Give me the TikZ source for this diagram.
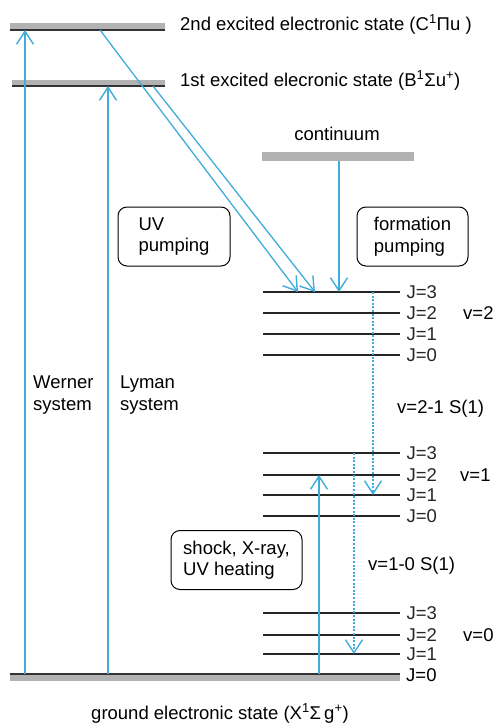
\documentclass[tikz,border=0pt]{standalone}
\usepackage{fontspec}
\setmainfont{Liberation Sans}
\usetikzlibrary{arrows.meta}
\definecolor{uvblue}{RGB}{64,172,218}
\tikzset{
  bar/.style={fill=gray!60,draw=none},
  barline/.style={line width=1.2pt,black!80},
  level/.style={line width=1.3pt,black!85},
  pump/.style={uvblue,line width=1.3pt,-{Straight Barb[length=13pt,width=17pt,line width=1.4pt]}},
  decay/.style={pump,dash pattern=on 2pt off 1.6pt,line width=1.1pt},
  lbl/.style={font=\fontsize{18.5}{21.5}\selectfont,inner sep=0pt},
  procbox/.style={lbl,draw,line width=1pt,rounded corners=9pt,align=left,minimum height=59pt}
}
\begin{document}
\begin{tikzpicture}[x=1pt,y=-1pt]
\useasboundingbox (0,0) rectangle (496,726);
% electronic states
\fill[bar] (10,23) rectangle (165,30);
\draw[barline] (10,30) -- (165,30);
\fill[bar] (12,80) rectangle (165,86);
\draw[barline] (12,86) -- (165,86);
\fill[bar] (262,152) rectangle (414,161);
\fill[bar] (10,674) rectangle (400,681);
\draw[barline] (10,674) -- (400,674);
\node[lbl,anchor=base west] (Cstate) at (180,30) {2nd excited electronic state (C\textsuperscript{1}Πu )};
\node[lbl,anchor=base west] (Bstate) at (180,86) {1st excited elecronic state (B\textsuperscript{1}Σu\textsuperscript{+})};
\node[lbl,anchor=base] (cont) at (337,140) {continuum};
\node[lbl,anchor=base] (Xstate) at (220,719) {ground electronic state (X\textsuperscript{1}Σ\,g\textsuperscript{+})};
\node[lbl,anchor=west] (J00) at (406,675) {J=0};
% rotational levels of v=2,1,0
\foreach \v/\j/\y in {2/3/292,2/2/313,2/1/334,2/0/355,1/3/453,1/2/475,1/1/495,1/0/516,0/3/613,0/2/635,0/1/654}
  \draw[level] (263,\y) coordinate (L\v\j) -- (400,\y) node[lbl,anchor=west,xshift=6pt] (J\v\j) {J=\j};
\node[lbl,anchor=west] (v2) at (463,313) {v=2};
\node[lbl,anchor=west] (v1) at (460,475) {v=1};
\node[lbl,anchor=west] (v0) at (463,635) {v=0};
\node[lbl,anchor=base west] (line21) at (397,413) {v=2-1 S(1)};
\node[lbl,anchor=base west] (line10) at (368,570) {v=1-0 S(1)};
% process boxes
\node[procbox,minimum width=112pt] (uvbox) at (174,236.5) {UV\\pumping};
\node[procbox,minimum width=111pt] (formbox) at (412.5,236.5) {formation\\pumping};
\node[procbox,minimum width=131pt] (shockbox) at (236.5,560) {shock, X-ray,\\UV heating};
\node[lbl,align=left,anchor=base west] (werner) at (33,410) {Werner\\system};
\node[lbl,align=left,anchor=base west] (lyman) at (120,410) {Lyman\\system};
% end points of the transitions
\coordinate (w0) at (25,674);
\coordinate (w1) at (25,30);
\coordinate (l0) at (108,674);
\coordinate (l1) at (108,86);
\coordinate (c1) at (100,30);
\coordinate (b1) at (153,86);
\coordinate (t1) at (298,292);
\coordinate (t2) at (315,292);
\coordinate (k0) at (339,161);
\coordinate (k1) at (339,292);
\coordinate (s0) at (319,674);
\coordinate (s1) at (319,475);
\coordinate (d0) at (373,292);
\coordinate (d1) at (373,495);
\coordinate (e0) at (354,453);
\coordinate (e1) at (354,654);
\draw[pump] (w0) -- (w1);
\draw[pump] (l0) -- (l1);
\draw[pump] (c1) -- (t1);
\draw[pump] (b1) -- (t2);
\draw[pump] (k0) -- (k1);
\draw[pump] (s0) -- (s1);
\draw[decay] (d0) -- (d1);
\draw[decay] (e0) -- (e1);
\end{tikzpicture}
\end{document}
